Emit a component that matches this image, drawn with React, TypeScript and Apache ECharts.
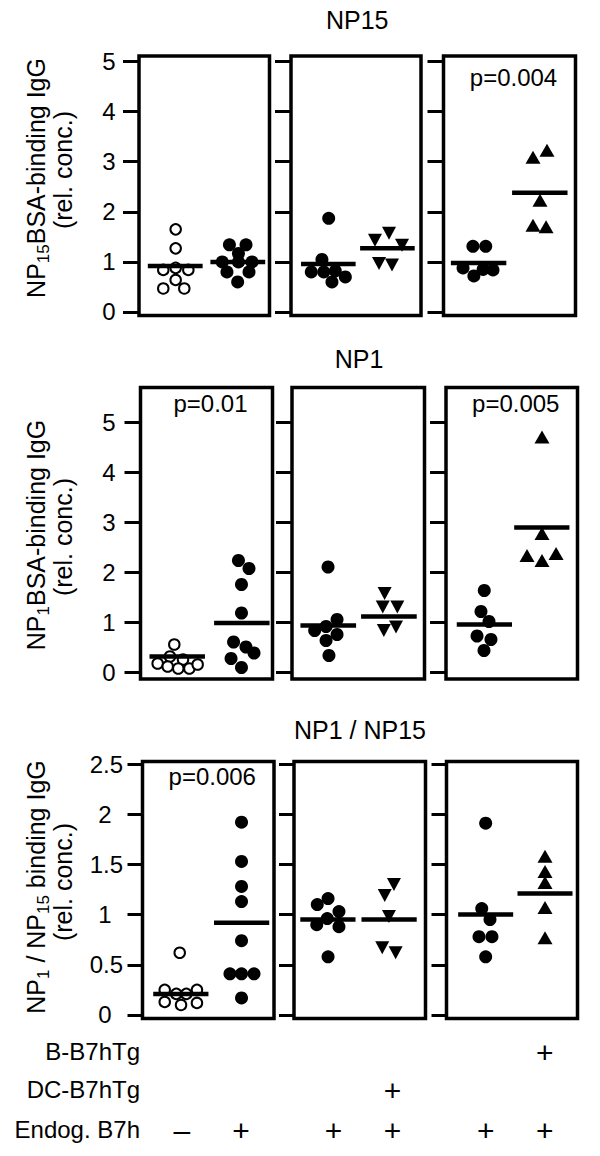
import React, { useEffect, useRef } from "react";
import * as echarts from "echarts";

const FONT = '"Liberation Sans", Arial, Helvetica, sans-serif';

// ---------- texts ----------
const panelTitles = ["NP15", "NP1", "NP1 / NP15"];
const yTitleMain = [
  "{n|NP}{s|15}{n|BSA-binding IgG}",
  "{n|NP}{s|1}{n|BSA-binding IgG}",
  "{n|NP}{s|1}{n| / NP}{s|15}{n| binding IgG}",
];
const yTitleSub = "(rel. conc.)";

// tick values per panel
const np15Ticks = [0, 1, 2, 3, 4, 5];
const np1Ticks = [0, 1, 2, 3, 4, 5];
const ratioTicks = [0, 0.5, 1, 1.5, 2, 2.5];

// p-values per box (box 1, 2, 3)
const np15PValues = ["", "", "p=0.004"];
const np1PValues = ["p=0.01", "", "p=0.005"];
const ratioPValues = ["p=0.006", "", ""];

// genotype table under the chart
const rowLabels = ["B-B7hTg", "DC-B7hTg", "Endog. B7h"];
const rowBB7hTg = ["", "", "", "", "", "+"];
const rowDCB7hTg = ["", "", "", "+", "", ""];
const rowEndog = ["\u2013", "+", "+", "+", "+", "+"];

// ---------- data: groups in order (box1 left, box1 right, box2 left, box2 right, box3 left, box3 right) ----------
// NP15 BSA-binding IgG
const np15Values = [
  [1.65, 1.27, 0.84, 0.88, 0.84, 0.64, 0.47, 0.47],
  [1.34, 1.34, 1.17, 1.0, 1.0, 1.0, 0.8, 0.8, 0.6],
  [1.87, 1.05, 0.8, 0.8, 0.82, 0.7, 0.6],
  [1.43, 1.57, 1.33, 0.97, 0.94],
  [1.31, 1.31, 0.88, 0.72, 0.85, 0.84],
  [3.09, 3.23, 2.23, 1.73, 1.7],
];
const np15Jitter = [
  [0.281, 0.281, 0.186, 0.281, 0.378, 0.281, 0.186, 0.347],
  [0.693, 0.82, 0.762, 0.638, 0.762, 0.866, 0.674, 0.843, 0.756],
  [0.29, 0.238, 0.156, 0.252, 0.341, 0.418, 0.315],
  [0.646, 0.754, 0.854, 0.677, 0.777],
  [0.223, 0.32, 0.148, 0.23, 0.3, 0.375],
  [0.678, 0.784, 0.731, 0.678, 0.777],
];
const np15Means = [0.92, 1.0, 0.96, 1.27, 0.98, 2.38];

// NP1 BSA-binding IgG
const np1Values = [
  [0.55, 0.31, 0.25, 0.17, 0.11, 0.07, 0.07, 0.15],
  [2.23, 2.07, 1.75, 1.18, 0.6, 0.5, 0.38, 0.27, 0.09],
  [2.1, 1.05, 0.91, 0.83, 0.75, 0.63, 0.33],
  [1.57, 1.3, 1.3, 0.9, 0.83],
  [1.63, 1.21, 1.01, 0.72, 0.65, 0.43],
  [4.7, 2.77, 2.33, 2.23, 2.37],
];
const np1Jitter = [
  [0.256, 0.223, 0.322, 0.13, 0.206, 0.286, 0.37, 0.433],
  [0.742, 0.822, 0.765, 0.765, 0.705, 0.799, 0.86, 0.686, 0.765],
  [0.272, 0.34, 0.257, 0.171, 0.34, 0.257, 0.279],
  [0.699, 0.685, 0.795, 0.785, 0.693],
  [0.291, 0.266, 0.327, 0.236, 0.342, 0.289],
  [0.73, 0.73, 0.616, 0.73, 0.837],
];
const np1Means = [0.31, 0.98, 0.93, 1.11, 0.95, 2.89];

// NP1 / NP15 ratio
const ratioValues = [
  [0.62, 0.25, 0.21, 0.21, 0.25, 0.13, 0.1, 0.12],
  [1.92, 1.53, 1.28, 1.13, 0.74, 0.41, 0.41, 0.41, 0.17],
  [1.16, 1.1, 1.03, 0.96, 0.9, 0.88, 0.58],
  [1.3, 1.19, 0.98, 0.67, 0.62],
  [1.91, 1.06, 0.95, 0.78, 0.78, 0.58],
  [1.58, 1.43, 1.32, 1.07, 0.77],
];
const ratioJitter = [
  [0.283, 0.169, 0.257, 0.333, 0.414, 0.169, 0.293, 0.414],
  [0.753, 0.753, 0.753, 0.753, 0.753, 0.665, 0.753, 0.848, 0.753],
  [0.259, 0.177, 0.342, 0.253, 0.173, 0.342, 0.259],
  [0.76, 0.69, 0.722, 0.671, 0.773],
  [0.299, 0.269, 0.332, 0.248, 0.347, 0.299],
  [0.752, 0.752, 0.752, 0.752, 0.752],
];
const ratioMeans = [0.21, 0.92, 0.95, 0.95, 1.0, 1.21];

// ---------- layout ----------
const panels = [
  {
    title: panelTitles[0], titleY: 19.5, yMain: yTitleMain[0], yMainY: 178, ySubY: 170,
    values: np15Values, jitter: np15Jitter, means: np15Means, ticks: np15Ticks, pValues: np15PValues, pY: 77,
    top: 56, height: 259.5, min: -0.07, max: 5.11, tickLen: 16, labelMargin: 23.5,
    boxes: [[139, 130.5], [291, 130], [443.5, 132]],
  },
  {
    title: panelTitles[1], titleY: 358.5, yMain: yTitleMain[1], yMainY: 535, ySubY: 537,
    values: np1Values, jitter: np1Jitter, means: np1Means, ticks: np1Ticks, pValues: np1PValues, pY: 403,
    top: 387.5, height: 291.5, min: -0.14, max: 5.69, tickLen: 16, labelMargin: 25,
    boxes: [[140.5, 132], [292, 132.5], [446, 131.5]],
  },
  {
    title: panelTitles[2], titleY: 730, yMain: yTitleMain[2], yMainY: 887, ySubY: 882,
    values: ratioValues, jitter: ratioJitter, means: ratioMeans, ticks: ratioTicks, pValues: ratioPValues, pY: 776,
    top: 761.5, height: 257, min: -0.035, max: 2.525, tickLen: 15, labelMargin: 19.5,
    boxes: [[142.5, 131.5], [294, 131.5], [446.5, 131]],
  },
];

const signRel = [0.3, 0.75];
const rowY = [1051, 1089, 1129];

function groupStyle(gi: number) {
  if (gi === 0) {
    return { symbol: "circle", symbolSize: 10.5, symbolRotate: 0, itemStyle: { color: "#fff", borderColor: "#000", borderWidth: 2, opacity: 1 } };
  }
  if (gi === 3) {
    return { symbol: "triangle", symbolSize: [14, 13], symbolRotate: 180, itemStyle: { color: "#000", opacity: 1 } };
  }
  if (gi === 5) {
    return { symbol: "triangle", symbolSize: [15, 13], symbolRotate: 0, itemStyle: { color: "#000", opacity: 1 } };
  }
  return { symbol: "circle", symbolSize: 13, symbolRotate: 0, itemStyle: { color: "#000", opacity: 1 } };
}

function buildOption() {
  const grid: any[] = [];
  const xAxis: any[] = [];
  const yAxis: any[] = [];
  const series: any[] = [];
  const graphic: any[] = [];

  panels.forEach((P, p) => {
    const spanLeft = P.boxes[0][0];
    const spanRight = P.boxes[2][0] + P.boxes[2][1];
    graphic.push({
      type: "text", x: (spanLeft + spanRight) / 2, y: P.titleY, silent: true,
      style: { text: P.title, fontSize: 25, fontFamily: FONT, fill: "#000", align: "center", verticalAlign: "middle" },
    });
    graphic.push({
      type: "text", x: 37, y: P.yMainY, rotation: Math.PI / 2, silent: true,
      style: {
        text: P.yMain, align: "center", verticalAlign: "middle", fill: "#000", fontFamily: FONT, fontSize: 25,
        rich: {
          n: { fontSize: 25, fontFamily: FONT, fill: "#000", lineHeight: 29, verticalAlign: "bottom", padding: [0, 0, 3, 0] },
          s: { fontSize: 17, fontFamily: FONT, fill: "#000", lineHeight: 19, verticalAlign: "bottom" },
        },
      },
    });
    graphic.push({
      type: "text", x: 63, y: P.ySubY, rotation: Math.PI / 2, silent: true,
      style: { text: yTitleSub, fontSize: 25, fontFamily: FONT, fill: "#000", align: "center", verticalAlign: "middle" },
    });

    P.boxes.forEach(([left, width], b) => {
      const idx = p * 3 + b;
      grid.push({
        left, top: P.top, width, height: P.height, show: true,
        borderColor: "#000", borderWidth: 3.5, backgroundColor: "transparent",
        containLabel: false, outerBoundsMode: "none",
      });
      xAxis.push({ type: "value", gridIndex: idx, min: 0, max: 1, show: false });
      yAxis.push({
        type: "value", gridIndex: idx, min: P.min, max: P.max,
        axisLine: { show: false }, splitLine: { show: false },
        axisTick: { show: true, customValues: P.ticks, length: P.tickLen, lineStyle: { color: "#000", width: 3 } },
        axisLabel: {
          show: b === 0, customValues: P.ticks, margin: P.labelMargin,
          fontSize: 24, fontFamily: FONT, color: "#000",
          formatter: (v: number) => (p === 2 && Number.isInteger(v) ? `{i|${v}}` : `${v}`),
          rich: { i: { fontSize: 24, fontFamily: FONT, color: "#000", padding: [0, 11.5, 0, 0] } },
        },
      });
      if (P.pValues[b]) {
        graphic.push({
          type: "text", x: left + width / 2 + 4, y: P.pY, silent: true,
          style: { text: P.pValues[b], fontSize: 24, fontFamily: FONT, fill: "#000", align: "center", verticalAlign: "middle" },
        });
      }
      for (let g = 0; g < 2; g++) {
        const gi = b * 2 + g;
        const vals = P.values[gi];
        const xs = P.jitter[gi];
        const st = groupStyle(gi);
        series.push({
          type: "scatter", xAxisIndex: idx, yAxisIndex: idx, silent: true, z: 2,
          symbol: st.symbol, symbolSize: st.symbolSize, symbolRotate: st.symbolRotate,
          itemStyle: st.itemStyle,
          data: vals.map((v, i) => [xs[i], v]),
        });
        const c = xs.reduce((a, x) => a + x, 0) / xs.length;
        const m = P.means[gi];
        series.push({
          type: "line", xAxisIndex: idx, yAxisIndex: idx, silent: true, z: 3,
          symbol: "none", lineStyle: { color: "#000", width: 4.5, cap: "butt", opacity: 1 },
          data: [[c - 0.21, m], [c + 0.21, m]],
        });
      }
    });
  });

  // genotype table
  const bottom = panels[2];
  const rows = [rowBB7hTg, rowDCB7hTg, rowEndog];
  rows.forEach((row, r) => {
    graphic.push({
      type: "text", x: 140, y: rowY[r], silent: true,
      style: { text: rowLabels[r], fontSize: 24, fontFamily: FONT, fill: "#000", align: "right", verticalAlign: "middle" },
    });
    row.forEach((sign, k) => {
      if (!sign) return;
      const [left, width] = bottom.boxes[Math.floor(k / 2)];
      graphic.push({
        type: "text", x: left + signRel[k % 2] * width, y: rowY[r] + 1, silent: true,
        style: { text: sign, fontSize: 30, fontFamily: FONT, fill: "#000", align: "center", verticalAlign: "middle" },
      });
    });
  });

  return { animation: false, backgroundColor: "#fff", grid, xAxis, yAxis, series, graphic };
}

export default function App() {
  const ref = useRef<HTMLDivElement>(null);
  useEffect(() => {
    if (!ref.current) return;
    const chart = echarts.init(ref.current, undefined, { renderer: "svg" });
    chart.setOption(buildOption() as any);
    return () => chart.dispose();
  }, []);
  return (
    <div
      ref={ref}
      style={{ position: "absolute", left: 0, top: 0, width: 600, height: 1156, background: "#fff" }}
    />
  );
}
